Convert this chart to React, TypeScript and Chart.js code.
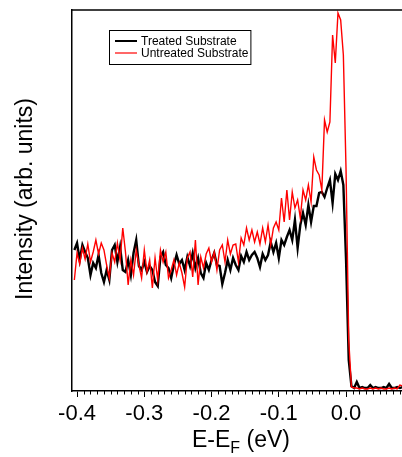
import React, { useEffect, useRef } from "react";
import { Chart, registerables } from "chart.js";

Chart.register(...registerables);

// Binding energy relative to the Fermi level (eV)
const energy = [
  -0.404, -0.4, -0.396, -0.392, -0.388, -0.384, -0.38, -0.376, -0.372, -0.368,
  -0.364, -0.36, -0.356, -0.352, -0.348, -0.344, -0.34, -0.336, -0.332, -0.328,
  -0.324, -0.32, -0.316, -0.312, -0.308, -0.304, -0.3, -0.296, -0.292, -0.288,
  -0.284, -0.28, -0.276, -0.272, -0.268, -0.264, -0.26, -0.256, -0.252, -0.248,
  -0.244, -0.24, -0.236, -0.232, -0.228, -0.224, -0.22, -0.216, -0.212, -0.208,
  -0.204, -0.2, -0.196, -0.192, -0.188, -0.184, -0.18, -0.176, -0.172, -0.168,
  -0.164, -0.16, -0.156, -0.152, -0.148, -0.144, -0.14, -0.136, -0.132, -0.128,
  -0.124, -0.12, -0.116, -0.112, -0.108, -0.104, -0.1, -0.096, -0.092, -0.088,
  -0.084, -0.08, -0.076, -0.072, -0.068, -0.064, -0.06, -0.056, -0.052, -0.048,
  -0.044, -0.04, -0.036, -0.032, -0.028, -0.024, -0.02, -0.016, -0.012, -0.008,
  -0.004, 0.0, 0.004, 0.008, 0.012, 0.016, 0.02, 0.024, 0.028, 0.032,
  0.036, 0.04, 0.044, 0.048, 0.052, 0.056, 0.06, 0.064, 0.068, 0.072,
  0.076, 0.08, 0.084,
];

// Intensity (arb. units)
const treated = [
  140, 147, 130, 145, 138, 132, 115, 127, 122, 135,
  117, 108, 120, 110, 140, 145, 128, 143, 120, 118,
  130, 115, 137, 150, 124, 120, 128, 118, 124, 120,
  108, 104, 133, 138, 125, 122, 112, 125, 135, 126,
  130, 120, 133, 124, 137, 122, 132, 117, 112, 127,
  120, 130, 137, 125, 124, 106, 117, 130, 120, 132,
  125, 120, 134, 128, 138, 130, 135, 138, 132, 123,
  136, 130, 135, 148, 138, 147, 132, 150, 145, 153,
  160, 150, 170, 142, 165, 177, 165, 185, 168, 184,
  184, 197, 198, 193, 202, 210, 187, 216, 210, 219,
  205, 130, 30, 4, 2, 8, 2, 3, 2, 2,
  5, 2, 3, 2, 2, 3, 2, 6, 2, 2,
  3, 2, 3,
];

const untreated = [
  110, 137, 126, 142, 131, 146, 128, 138, 150, 136,
  147, 140, 125, 112, 137, 128, 147, 130, 162, 138,
  105, 130, 115, 140, 125, 112, 140, 118, 130, 102,
  132, 110, 140, 128, 138, 112, 120, 130, 115, 127,
  117, 103, 132, 138, 113, 150, 105, 133, 122, 136,
  142, 128, 138, 120, 140, 145, 128, 150, 136, 145,
  146, 128, 152, 145, 162, 150, 160, 148, 158, 146,
  162, 148, 165, 145, 162, 168, 160, 192, 168, 200,
  170, 198, 182, 190, 172, 200, 190, 205, 188, 233,
  220, 215, 200, 270, 258, 268, 355, 327, 377, 370,
  335, 220, 50, 3, 2, 2, 1, 2, 1, 1,
  2, 1, 2, 1, 2, 1, 1, 2, 1, 2,
  1, 5, 4,
];

const seriesLabels = ["Treated Substrate", "Untreated Substrate"];
const seriesColors = ["#000000", "#ff0000"];
const xTitleMain = "E-E";
const xTitleSub = "F";
const xTitleTail = " (eV)";
const yTitle = "Intensity (arb. units)";

const FONT = "'Liberation Sans', Arial, Helvetica, sans-serif";

export default function App() {
  const ref = useRef<HTMLCanvasElement>(null);

  useEffect(() => {
    document.body.style.margin = "0";
    const canvas = ref.current;
    if (!canvas) return;

    const decor = {
      id: "decor",
      afterDraw(chart: any) {
        const { ctx, chartArea: a, scales } = chart;
        const xs = scales.x;
        ctx.save();
        // top frame line
        ctx.strokeStyle = "#000";
        ctx.lineWidth = 1.5;
        ctx.beginPath();
        ctx.moveTo(a.left, a.top);
        ctx.lineTo(a.right, a.top);
        ctx.stroke();
        // minor ticks
        ctx.lineWidth = 1;
        for (let k = -45; k <= 10; k++) {
          if (k % 10 === 0) continue;
          const v = k / 100;
          if (v < xs.min || v > xs.max) continue;
          const px = Math.round(xs.getPixelForValue(v)) + 0.5;
          ctx.beginPath();
          ctx.moveTo(px, a.bottom);
          ctx.lineTo(px, a.bottom + 3.5);
          ctx.stroke();
        }
        // legend
        const lx = a.left + 37;
        const ly = a.top + 20;
        ctx.font = `12px ${FONT}`;
        const tw = Math.max(...seriesLabels.map((s) => ctx.measureText(s).width));
        const bw = 32 + tw + 2;
        const bh = 34;
        ctx.fillStyle = "#fff";
        ctx.fillRect(lx, ly, bw, bh);
        ctx.strokeStyle = "#000";
        ctx.lineWidth = 1;
        ctx.strokeRect(lx + 0.5, ly + 0.5, bw, bh);
        seriesLabels.forEach((lab, i) => {
          const yy = ly + 11 + i * 12;
          ctx.strokeStyle = seriesColors[i];
          ctx.lineWidth = i === 0 ? 2 : 1.2;
          ctx.beginPath();
          ctx.moveTo(lx + 6, yy);
          ctx.lineTo(lx + 28, yy);
          ctx.stroke();
          ctx.fillStyle = "#000";
          ctx.textBaseline = "middle";
          ctx.textAlign = "left";
          ctx.fillText(lab, lx + 32, yy + 0.5);
        });
        // x title with subscript
        const big = `23px ${FONT}`;
        const small = `16px ${FONT}`;
        ctx.font = big;
        const w1 = ctx.measureText(xTitleMain).width;
        const w3 = ctx.measureText(xTitleTail).width;
        ctx.font = small;
        const w2 = ctx.measureText(xTitleSub).width;
        const total = w1 + w2 + w3;
        let sx = 241 - total / 2;
        const base = 447;
        ctx.fillStyle = "#000";
        ctx.textBaseline = "alphabetic";
        ctx.textAlign = "left";
        ctx.font = big;
        ctx.fillText(xTitleMain, sx, base);
        sx += w1;
        ctx.font = small;
        ctx.fillText(xTitleSub, sx, base + 6);
        sx += w2;
        ctx.font = big;
        ctx.fillText(xTitleTail, sx, base);
        // y title
        ctx.translate(26, 199);
        ctx.rotate(-Math.PI / 2);
        ctx.textAlign = "center";
        ctx.textBaseline = "middle";
        ctx.font = big;
        ctx.fillText(yTitle, 0, 0);
        ctx.restore();
      },
    };

    const chart = new Chart(canvas, {
      type: "line",
      data: {
        datasets: [
          {
            label: seriesLabels[0],
            data: energy.map((e, i) => ({ x: e, y: treated[i] })),
            borderColor: seriesColors[0],
            borderWidth: 2.4,
            pointRadius: 0,
            tension: 0,
            fill: false,
            order: 1,
          },
          {
            label: seriesLabels[1],
            data: energy.map((e, i) => ({ x: e, y: untreated[i] })),
            borderColor: seriesColors[1],
            borderWidth: 1.4,
            pointRadius: 0,
            tension: 0,
            fill: false,
            order: 0,
          },
        ],
      },
      options: {
        animation: false,
        responsive: false,
        devicePixelRatio: 1,
        layout: { padding: { top: 10, right: 0, left: 0, bottom: 0 } },
        plugins: { legend: { display: false }, tooltip: { enabled: false } },
        scales: {
          x: {
            type: "linear",
            min: -0.4075,
            max: 0.0832,
            afterFit: (s: any) => {
              s.height = 66;
            },
            border: { display: true, color: "#000", width: 1.5 },
            grid: {
              display: true,
              drawOnChartArea: false,
              drawTicks: true,
              tickLength: 6,
              tickColor: "#000",
              tickWidth: 1,
            },
            ticks: {
              stepSize: 0.1,
              includeBounds: false,
              color: "#000",
              padding: 4,
              maxRotation: 0,
              autoSkip: false,
              font: { family: FONT, size: 22 },
              callback: (v: any) => {
                const n = Number(v);
                return Math.abs(n) < 1e-9 ? "0.0" : n.toFixed(1);
              },
            },
          },
          y: {
            type: "linear",
            min: -1,
            max: 380,
            afterFit: (s: any) => {
              s.width = 72;
            },
            border: { display: true, color: "#000", width: 1.5 },
            grid: { display: false },
            ticks: { display: false },
          },
        },
      },
      plugins: [decor],
    });

    return () => chart.destroy();
  }, []);

  return (
    <div style={{ width: 402, height: 457 }}>
      <canvas ref={ref} width={402} height={457} />
    </div>
  );
}
